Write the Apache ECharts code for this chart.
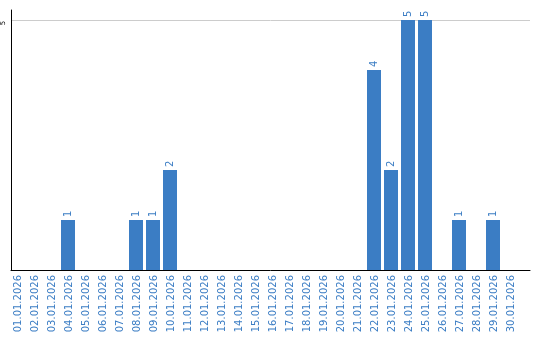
<!DOCTYPE html>
<html>
<head>
<meta charset="utf-8">
<script src="https://cdn.jsdelivr.net/npm/echarts@6/dist/echarts.min.js"></script>
<style>
html,body{margin:0;padding:0;background:#fff;}
#chart{width:540px;height:340px;}
</style>
</head>
<body>
<div id="chart"></div>
<script>
const categories = ['01.01.2026','02.01.2026','03.01.2026','04.01.2026','05.01.2026','06.01.2026','07.01.2026','08.01.2026','09.01.2026','10.01.2026','11.01.2026','12.01.2026','13.01.2026','14.01.2026','15.01.2026','16.01.2026','17.01.2026','18.01.2026','19.01.2026','20.01.2026','21.01.2026','22.01.2026','23.01.2026','24.01.2026','25.01.2026','26.01.2026','27.01.2026','28.01.2026','29.01.2026','30.01.2026'];
const values = [0,0,0,1,0,0,0,1,1,2,0,0,0,0,0,0,0,0,0,0,0,4,2,5,5,0,1,0,1,0];
const yTicks = [5];
const yMax = 5.2;

const blue = '#3b7dc4';
const font = 'DejaVu Sans';
const chart = echarts.init(document.getElementById('chart'), null, {renderer:'canvas'});
chart.setOption({
  animation: false,
  grid: [
    {left: 10, right: 10, top: 10, bottom: 70, containLabel: false},
    {left: 10, width: 510, top: 10, bottom: 70, containLabel: false}
  ],
  xAxis: [
    {gridIndex: 0, type: 'value', min: 0, max: 1,
     axisLine: {show: true, onZero: false, lineStyle: {color: '#000', width: 1}},
     axisTick: {show: false}, axisLabel: {show: false}, splitLine: {show: false}},
    {gridIndex: 1, type: 'category', data: categories,
     axisLine: {show: false}, axisTick: {show: false}, splitLine: {show: false},
     axisLabel: {interval: 0, rotate: 90, color: blue, fontFamily: font, fontSize: 10, margin: 5}}
  ],
  yAxis: [
    {gridIndex: 0, type: 'value', min: 0, max: yMax, interval: 5,
     axisLine: {show: true, onZero: false, lineStyle: {color: '#000', width: 1}},
     axisTick: {show: false},
     splitLine: {show: true, showMinLine: false, showMaxLine: false, lineStyle: {color: '#cccccc', width: 1}},
     axisLabel: {show: true, rotate: 90, color: '#000', fontFamily: font, fontSize: 7, margin: 4,
       padding: [0, 6, 0, 0],
       showMinLabel: false, showMaxLabel: false,
       formatter: v => yTicks.indexOf(v) >= 0 ? String(v) : ''}},
    {gridIndex: 1, type: 'value', min: 0, max: yMax, show: false}
  ],
  series: [{
    type: 'bar', xAxisIndex: 1, yAxisIndex: 1,
    data: values.map(v => v === 0 ? null : v),
    barWidth: 14, barGap: '0%',
    itemStyle: {color: blue},
    label: {show: true, position: 'top', rotate: 90, align: 'left', verticalAlign: 'middle', distance: 3,
      color: blue, fontFamily: font, fontSize: 10}
  }, {
    type: 'bar', xAxisIndex: 1, yAxisIndex: 1,
    data: values.map(() => null),
    barWidth: 3, barGap: '0%', silent: true,
    itemStyle: {color: 'rgba(0,0,0,0)'}
  }]
});
</script>
</body>
</html>
